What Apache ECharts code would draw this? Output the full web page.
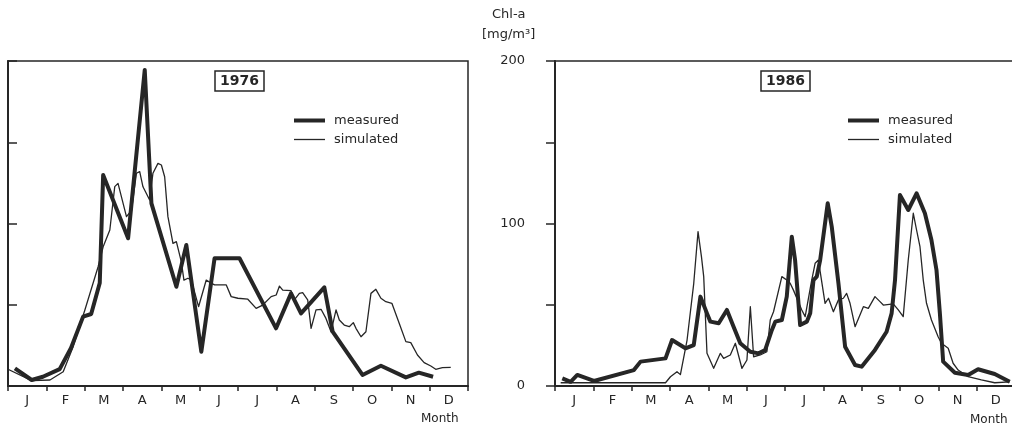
<!DOCTYPE html>
<html>
<head>
<meta charset="utf-8">
<script src="https://cdn.jsdelivr.net/npm/echarts@6/dist/echarts.min.js"></script>
<style>
  html, body { margin: 0; padding: 0; overflow: hidden; background: #fff; }
  #e1 { width: 1020px; height: 429px; }
</style>
</head>
<body>
<div id="e1"></div>
<script>
  // months (category axis) and the letters drawn under it
  const months = ['Jan', 'Feb', 'Mar', 'Apr', 'May', 'Jun', 'Jul', 'Aug', 'Sep', 'Oct', 'Nov', 'Dec'];
  const monthLetters = ['J', 'F', 'M', 'A', 'M', 'J', 'J', 'A', 'S', 'O', 'N', 'D'];

  // 1976 measured  (day of year / Chl-a mg/m3)
  const days76Meas = [5.5, 18.8, 27.7, 41, 50, 59.6, 66, 72.8, 75.5, 95.3, 108.5, 113.8, 133.6, 141.5, 153.4, 163.9, 183.7, 212.7, 224.6, 232.5, 251, 257.6, 281.3, 295.9, 315.7, 326, 337.3];
  const vals76Meas = [10.9, 3.7, 5.7, 10.4, 23.4, 42.7, 44.3, 63.4, 129.8, 90.9, 194.5, 112.4, 61.1, 86.8, 21.1, 78.6, 78.6, 35.5, 57, 44.7, 60.7, 33.4, 6.8, 12.5, 5.3, 8.2, 5.7];

  // 1976 simulated
  const days76Sim = [0, 18.8, 33.3, 43.8, 51.7, 61, 71.5, 75.5, 80.8, 84.7, 87.3, 94, 98, 101.9, 104.5, 107.1, 112.4, 115, 119, 121.7, 124.3, 126.9, 130.9, 133.6, 137.5, 139.6, 142.8, 145.5, 151.2, 157.3, 160.5, 163.9, 173.2, 177.1, 182.4, 190.3, 196.9, 202.1, 208.8, 212.8, 215.4, 218, 224.6, 227.2, 231.2, 233.8, 237.8, 240.5, 244.4, 248.4, 252.3, 256.3, 260.3, 262.9, 266.8, 270.8, 274, 276.1, 280.1, 284, 288, 291.9, 295.9, 299.8, 304.6, 310.4, 315.7, 319.6, 324.9, 330.2, 335.5, 339.4, 344.7, 351.3];
  const vals76Sim = [10.3, 3.3, 3.7, 8.8, 24.2, 46.8, 73.4, 85.7, 96, 122.7, 124.7, 104.2, 108, 130.9, 131.9, 122.6, 114.5, 130.9, 137, 136, 128.8, 104.2, 87.8, 88.8, 76.5, 65.2, 66.3, 65.2, 48.8, 65.2, 63.6, 62.2, 62.2, 55, 54, 53.4, 47.8, 49.8, 55, 56, 61.5, 59, 58.7, 53, 57, 57.4, 53, 35.5, 46.8, 47.2, 41.6, 33.4, 46.8, 40.6, 37.5, 36.5, 39, 35.5, 30.3, 33.4, 57, 59.5, 54, 51.9, 50.9, 38.6, 27.3, 26.7, 19.1, 14.4, 12.3, 10.3, 11.3, 11.5];

  // 1986 measured
  const days86Meas = [5.8, 12.4, 17.7, 30.9, 62.6, 67.9, 87.7, 92.9, 103.5, 110.1, 115.4, 120.6, 123.3, 129.9, 136.4, 141.7, 147, 155, 161.5, 166.8, 172.1, 174.8, 180, 183.9, 187.9, 190.5, 193.2, 194.5, 199.8, 202.5, 205.1, 207.7, 210.4, 216.4, 219.6, 224.9, 230.2, 238.1, 243.3, 253.9, 263.1, 267.1, 269.8, 273.7, 280.3, 286.9, 293.5, 298.7, 302.7, 305.4, 308, 317.3, 327.8, 335.7, 348.9, 360.8];
  const vals86Meas = [4.7, 2.6, 6.8, 3.1, 9.8, 15, 17, 28.3, 23.2, 25.2, 55, 44.7, 39.6, 38.6, 46.8, 36.5, 26.3, 21.1, 20.1, 22.2, 34.5, 39.6, 40.6, 55, 91.9, 77.5, 50.9, 37.5, 39.6, 44.7, 65.2, 67.3, 77.5, 112.4, 98, 63.2, 24.2, 12.9, 11.9, 22.2, 33.4, 44.7, 65.2, 117.5, 108.3, 118.6, 106.3, 89.8, 71.4, 44.7, 15, 8.2, 6.8, 10.3, 7.4, 2.6];

  // 1986 simulated
  const days86Sim = [4.5, 87.7, 91.6, 96.8, 99.5, 104.8, 110.1, 113.5, 116.2, 118, 120.6, 125.9, 131.2, 133.8, 139.1, 143.1, 148.3, 152.3, 155, 157.6, 162.9, 168.1, 170.8, 173.4, 180, 183.9, 186.6, 189.2, 195.8, 198.5, 203.7, 206.4, 209, 214.3, 217, 220.9, 224.9, 228.8, 231.4, 234.1, 238.1, 244.7, 248.6, 253.9, 257.9, 260.5, 268.4, 272.4, 276.3, 280.3, 284.3, 286.9, 289.6, 292.2, 294.8, 298.7, 304, 306.7, 312, 315.9, 319.9, 327.8, 338.3, 348.9, 360.8];
  const vals86Sim = [2, 2, 5.7, 8.8, 7, 28.3, 63.2, 95, 79.6, 67.3, 20.1, 10.9, 20.1, 17, 19.1, 26.3, 10.9, 16, 48.8, 18, 19.1, 21.1, 40.6, 45.7, 67.3, 65.2, 63.2, 59, 46.8, 42.7, 65.2, 75.5, 77.5, 50.9, 54, 45.7, 53, 54, 57, 50.9, 36.5, 48.8, 47.8, 55, 51.9, 49.8, 50.5, 46.8, 42.7, 77.5, 106.3, 96, 85.7, 65.2, 50.9, 40.6, 30.3, 26.3, 23.2, 14, 9.8, 5.7, 3.7, 2, 2.5];

  const ink = '#262626';
  const font = 'DejaVu Sans';

  function pairs(d, v) {
    let out = [];
    for (let i = 0; i < d.length; i++) out.push([d[i], v[i]]);
    return out;
  }

  function monthAxis(grid) {
    return {
      type: 'category', gridIndex: grid, data: months, boundaryGap: true, position: 'bottom',
      axisLine: { show: true, lineStyle: { color: ink, width: 2 } },
      axisTick: { show: true, length: 5, lineStyle: { color: ink, width: 1.5 } },
      axisLabel: {
        interval: 0, margin: 8, color: ink, fontFamily: font, fontSize: 13,
        formatter: function (v, i) { return monthLetters[i]; }
      },
      splitLine: { show: false }
    };
  }

  function dayAxis(grid) {
    return { type: 'value', gridIndex: grid, min: 0, max: 365, show: false };
  }

  function chlAxis(grid, pos, showLabels) {
    return {
      type: 'value', gridIndex: grid, position: pos, min: 0, max: 200, interval: 50,
      axisLine: { show: true, lineStyle: { color: ink, width: 2 } },
      axisTick: { show: true, length: 9, lineStyle: { color: ink, width: 1.5 } },
      axisLabel: {
        show: showLabels, margin: 30, color: ink, fontFamily: font, fontSize: 13,
        formatter: function (v) { return v % 100 === 0 ? String(v) : ''; }
      },
      splitLine: { show: false }
    };
  }

  function lineSeries(name, x, y, data, width, z) {
    return {
      name: name, type: 'line', xAxisIndex: x, yAxisIndex: y, data: data,
      symbol: 'none', showSymbol: false, z: z,
      lineStyle: { color: ink, width: width, join: 'round' },
      itemStyle: { color: ink }
    };
  }

  function yearBox(text, left) {
    return {
      text: text, left: left, top: 71, padding: [3, 5, 3, 5],
      borderColor: ink, borderWidth: 1.5,
      textStyle: { color: ink, fontFamily: font, fontSize: 14, fontWeight: 'bold' }
    };
  }

  function plainText(text, left, top, size) {
    return {
      text: text, left: left, top: top, padding: 0,
      textStyle: { color: ink, fontFamily: font, fontSize: size, fontWeight: 'normal' }
    };
  }

  function legendAt(left) {
    return {
      left: left, top: 114, orient: 'vertical', padding: 0,
      itemWidth: 31, itemHeight: 14, itemGap: 6,
      lineStyle: { width: 'inherit' },
      // only the line in the key, no marker dot
      itemStyle: { opacity: 0, color: 'rgba(0,0,0,0)', borderWidth: 0 },
      textStyle: { color: ink, fontFamily: font, fontSize: 13, padding: [0, 0, 0, 4] },
      data: ['measured', 'simulated']
    };
  }

  const myChart = echarts.init(document.getElementById('e1'));
  const option = {
    animation: false,
    backgroundColor: '#fff',
    title: [
      yearBox('1976', 215),
      yearBox('1986', 761),
      plainText('Chl-a', 492, 8, 13),
      plainText('[mg/m³]', 482, 28, 13),
      plainText('Month', 421, 413, 12),
      plainText('Month', 970, 414, 12)
    ],
    legend: [legendAt(292), legendAt(846)],
    grid: [
      { left: 8, top: 61, width: 460, height: 325, show: true, borderColor: ink, borderWidth: 1.5 },
      { left: 555, top: 61, width: 460, height: 325, show: true, borderColor: ink, borderWidth: 1.5 }
    ],
    xAxis: [monthAxis(0), dayAxis(0), monthAxis(1), dayAxis(1)],
    yAxis: [chlAxis(0, 'right', false), chlAxis(1, 'left', true)],
    series: [
      lineSeries('simulated', 1, 0, pairs(days76Sim, vals76Sim), 1.3, 2),
      lineSeries('measured', 1, 0, pairs(days76Meas, vals76Meas), 4, 3),
      lineSeries('simulated', 3, 1, pairs(days86Sim, vals86Sim), 1.3, 2),
      lineSeries('measured', 3, 1, pairs(days86Meas, vals86Meas), 4, 3)
    ]
  };
  myChart.setOption(option);
</script>
</body>
</html>
